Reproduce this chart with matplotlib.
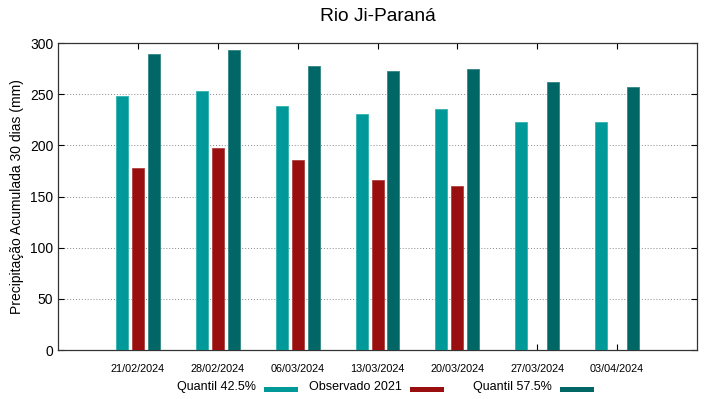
import numpy as np
import matplotlib
matplotlib.use("Agg")
import matplotlib.pyplot as plt
from matplotlib.patches import Rectangle

plt.rcParams['font.family'] = ['Liberation Sans', 'DejaVu Sans']

datas = ['21/02/2024', '28/02/2024', '06/03/2024', '13/03/2024',
         '20/03/2024', '27/03/2024', '03/04/2024']
q425 = [248, 253, 238, 231, 236, 223, 223]
obs2021 = [178, 197, 186, 166, 160, np.nan, np.nan]
q575 = [289, 293, 278, 273, 275, 262, 257]

series = ['Quantil 42.5%', 'Observado 2021', 'Quantil 57.5%']
cores = ['#009999', '#990f0f', '#006666']
bordas = ['#33b3b3', '#b04040', '#338585']

fig = plt.figure(figsize=(7.19, 3.99), dpi=100)
ax = fig.add_axes([0.0807, 0.1228, 0.8887, 0.7694])

x = np.arange(len(datas))
larg = 0.15
desl = 0.2
for i, vals in enumerate([q425, obs2021, q575]):
    ax.bar(x + (i - 1) * desl, vals, larg, color=cores[i], edgecolor=bordas[i],
           linewidth=0.6, label=series[i], zorder=3)

ax.set_xlim(-1, 7)
ax.set_ylim(0, 300)
ax.set_xticks(x)
ax.set_xticklabels(datas, fontsize=7.8)
ax.set_yticks(np.arange(0, 301, 50))
ax.tick_params(axis='y', labelsize=10, direction='in', right=True, length=4)
ax.tick_params(axis='x', direction='in', top=True, length=4, pad=10)
ax.yaxis.grid(True, linestyle=(0, (1, 2)), color='#888888', linewidth=0.7)
for s in ax.spines.values():
    s.set_color('#333333')
    s.set_linewidth(0.9)

ax.set_ylabel('Precipitação Acumulada 30 dias (mm)', fontsize=10)
ax.set_title('Rio Ji-Paraná', fontsize=13.8, pad=16)

# legenda estilo gnuplot: texto alinhado à direita e amostra depois
W, H = 719, 399
fim_texto = [256, 402, 552]
for i in range(3):
    fig.text(fim_texto[i] / W, 1 - 387 / H, series[i], ha='right', va='center',
             fontsize=9)
    fig.patches.append(Rectangle(((fim_texto[i] + 8) / W, 1 - 391.5 / H),
                                 33.5 / W, 5 / H, transform=fig.transFigure,
                                 facecolor=cores[i], edgecolor='none'))

fig.savefig('out.png', dpi=100)
